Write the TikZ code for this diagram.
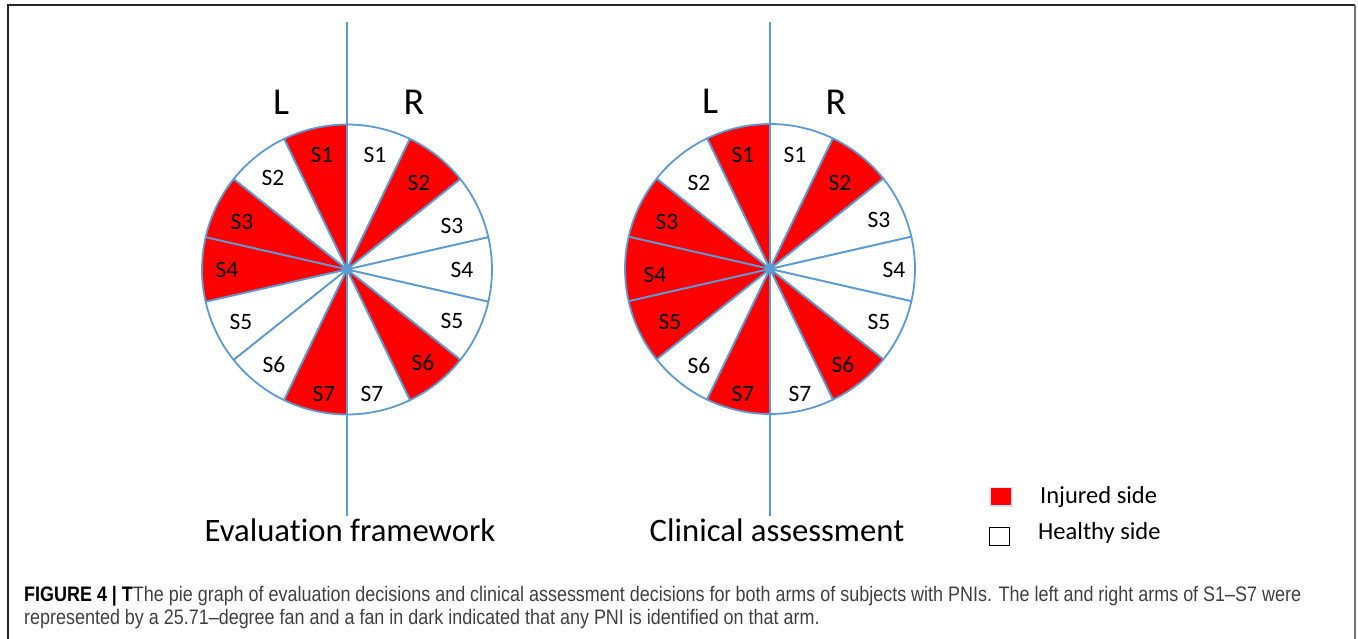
\documentclass[tikz,border=0pt]{standalone}
\usepackage{fontspec}
\setmainfont{Carlito}[Ligatures=NoCommon]
\newfontfamily\capfont{Liberation Sans}
\definecolor{pieblue}{RGB}{91,155,213}
\definecolor{injred}{RGB}{255,0,0}
\definecolor{capgray}{RGB}{64,64,64}
\newlength\capw
\newcommand\capone{{\bfseries\color{black}FIGURE 4 | T}The pie graph of evaluation decisions and clinical assessment decisions for both arms of subjects with PNIs. The left and right arms of S1–S7 were}
\newcommand\captwo{represented by a 25.71–degree fan and a fan in dark indicated that any PNI is identified on that arm.}
\newcommand\pieslice[4]{%
  \filldraw[piestroke, fill=#4] (#1) -- ++(#2:145) arc[start angle=#2, end angle=#3, radius=145] -- cycle;}
\tikzset{
  piestroke/.style={draw=pieblue, line width=1.8pt, line join=round},
  axisline/.style={draw=pieblue, line width=1.8pt},
  seglab/.style={inner sep=0pt, font=\fontsize{23.5}{27}\selectfont},
  sidelab/.style={inner sep=0pt, font=\fontsize{38}{44}\selectfont},
  titlelab/.style={inner sep=0pt, font=\fontsize{32.7}{38}\selectfont},
  leglab/.style={inner sep=0pt, font=\fontsize{24.5}{28}\selectfont, anchor=west},
  caplab/.style={inner sep=0pt, anchor=base west, text=capgray},
}
\begin{document}
\settowidth\capw{\capfont\fontsize{21}{25}\selectfont\capone}
\pgfmathsetmacro\capr{1277/(\capw/1pt)}
\begin{tikzpicture}[x=1pt,y=1pt]
\useasboundingbox (0,0) rectangle (1358,-639);
% frame
\draw[black!85, line width=1.4pt] (8,-639) -- (8,-5) -- (1355,-5);
\draw[black!55, line width=2.4pt] (1355,-5) -- (1355,-639);

\def\ang{25.7142857}
\coordinate (c1) at (347,-269.5);
\coordinate (c2) at (770,-269);
% pie 1
\foreach \i/\lc/\rc in {1/injred/white,2/white/injred,3/injred/white,4/injred/white,5/white/white,6/white/injred,7/injred/white}{
  \pgfmathsetmacro\ra{90-(\i-1)*\ang}
  \pgfmathsetmacro\rb{90-\i*\ang}
  \pgfmathsetmacro\la{90+(\i-1)*\ang}
  \pgfmathsetmacro\lb{90+\i*\ang}
  \pieslice{c1}{\ra}{\rb}{\rc}
  \pieslice{c1}{\la}{\lb}{\lc}
}
% pie 2
\foreach \i/\lc/\rc in {1/injred/white,2/white/injred,3/injred/white,4/injred/white,5/injred/white,6/white/injred,7/injred/white}{
  \pgfmathsetmacro\ra{90-(\i-1)*\ang}
  \pgfmathsetmacro\rb{90-\i*\ang}
  \pgfmathsetmacro\la{90+(\i-1)*\ang}
  \pgfmathsetmacro\lb{90+\i*\ang}
  \pieslice{c2}{\ra}{\rb}{\rc}
  \pieslice{c2}{\la}{\lb}{\lc}
}
% axis lines
\coordinate (t1) at (347,-22);
\coordinate (b1) at (347,-516);
\coordinate (t2) at (770,-22);
\coordinate (b2) at (770,-516);
\draw[axisline] (t1) -- (b1);
\draw[axisline] (t2) -- (b2);

% labels pie 1
\node[seglab] (aR1) at (375,-155) {S1};
\node[seglab] (aR2) at (419,-183) {S2};
\node[seglab] (aR3) at (452,-226) {S3};
\node[seglab] (aR4) at (462,-270) {S4};
\node[seglab] (aR5) at (452,-321) {S5};
\node[seglab] (aR6) at (423,-363) {S6};
\node[seglab] (aR7) at (372,-394) {S7};
\node[seglab] (aL1) at (322,-155) {S1};
\node[seglab] (aL2) at (273,-178) {S2};
\node[seglab] (aL3) at (242,-222) {S3};
\node[seglab] (aL4) at (227,-270) {S4};
\node[seglab] (aL5) at (241,-322) {S5};
\node[seglab] (aL6) at (274,-365) {S6};
\node[seglab] (aL7) at (324,-394) {S7};
% labels pie 2
\node[seglab] (bR1) at (795,-155) {S1};
\node[seglab] (bR2) at (840,-183) {S2};
\node[seglab] (bR3) at (879,-220) {S3};
\node[seglab] (bR4) at (894,-270) {S4};
\node[seglab] (bR5) at (879,-322) {S5};
\node[seglab] (bR6) at (843,-365) {S6};
\node[seglab] (bR7) at (800,-394) {S7};
\node[seglab] (bL1) at (743,-155) {S1};
\node[seglab] (bL2) at (699,-183) {S2};
\node[seglab] (bL3) at (667,-222) {S3};
\node[seglab] (bL4) at (655,-275) {S4};
\node[seglab] (bL5) at (670,-322) {S5};
\node[seglab] (bL6) at (699,-366) {S6};
\node[seglab] (bL7) at (743,-394) {S7};

% side letters
\node[sidelab] (L1) at (281,-102) {L};
\node[sidelab] (R1) at (414,-102) {R};
\node[sidelab] (L2) at (710,-101) {L};
\node[sidelab] (R2) at (836,-102) {R};

% titles
\node[titlelab] (title1) at (350,-530) {Evaluation framework};
\node[titlelab] (title2) at (777,-530) {Clinical assessment};

% legend
\fill[pieblue!25] (988.5,-486.5) rectangle (1012.5,-506.5);
\node[draw=none, fill=injred, minimum width=20pt, minimum height=17pt, inner sep=0pt] (injbox) at (1000.5,-496.5) {};
\node[draw=black, line width=1.4pt, fill=white, minimum width=20pt, minimum height=18pt, inner sep=0pt] (healbox) at (999.5,-536.5) {};
\node[leglab] (injtext) at (1040,-497) {Injured side};
\node[leglab] (healtext) at (1038,-533) {Healthy side};

% caption
\node[caplab] (cap1) at (24,-601) {\scalebox{\capr}[1]{\capfont\fontsize{21}{25}\selectfont\capone}};
\node[caplab] (cap2) at (24,-624) {\scalebox{\capr}[1]{\capfont\fontsize{21}{25}\selectfont\captwo}};
\end{tikzpicture}
\end{document}
